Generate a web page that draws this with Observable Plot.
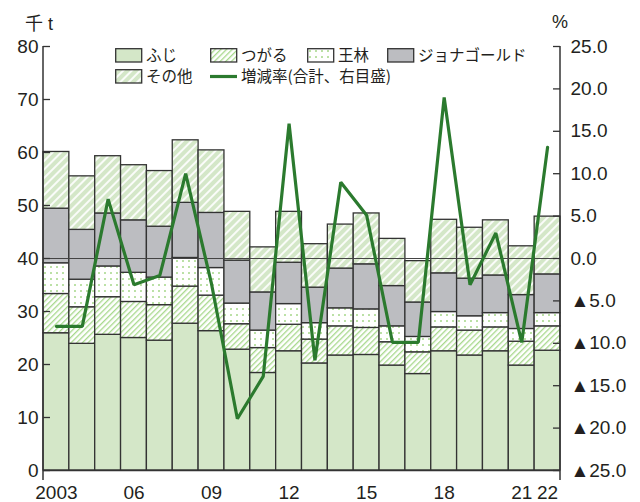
<!DOCTYPE html>
<html><head><meta charset="utf-8">
<script src="https://cdn.jsdelivr.net/npm/d3@7"></script>
<script src="https://cdn.jsdelivr.net/npm/@observablehq/plot@0.6"></script>
<style>
body{margin:0;background:#fff;}
#wrap{position:relative;width:640px;height:502px;font-family:"Liberation Sans",Arial,sans-serif;color:#231f20;}
.lg{position:absolute;font-family:"Noto Sans CJK JP",sans-serif;font-size:15.5px;color:#231f20;line-height:1;white-space:nowrap;}
.sw{position:absolute;}
.unit{position:absolute;font-size:18px;line-height:1;}
</style></head><body><div id="wrap"></div>
<script>
const years = [2003,2004,2005,2006,2007,2008,2009,2010,2011,2012,2013,2014,2015,2016,2017,2018,2019,2020,2021,2022];
const fuji     = [25.9,23.9,25.6,25.0,24.5,27.7,26.3,22.8,18.4,22.5,20.2,21.7,21.8,19.8,18.2,22.5,21.7,22.5,19.8,22.6];
const tsugaru  = [7.4,6.9,7.1,6.8,6.7,7.0,6.7,4.8,4.7,5.0,4.5,5.5,5.1,4.4,4.1,4.5,4.7,4.5,4.5,4.6];
const ourin    = [5.8,5.2,5.8,5.5,5.2,5.4,5.2,3.9,3.3,3.9,3.1,3.4,3.5,3.0,2.9,2.9,2.7,2.7,2.4,2.5];
const jonagold = [10.3,9.4,10.0,9.9,9.6,10.4,10.4,8.1,7.2,7.8,6.7,7.5,8.5,7.6,6.5,7.3,7.1,7.1,6.4,7.3];
const other    = [10.7,10.1,10.8,10.4,10.5,11.8,11.8,9.2,8.5,9.6,8.2,8.3,9.6,8.9,7.8,10.1,9.6,10.4,9.2,10.9];
const changePct = [-8.0,-8.0,7.0,-3.1,-2.0,10.0,-3.0,-18.9,-13.9,15.9,-12.0,9.0,5.1,-9.9,-9.9,19.0,-3.1,3.0,-9.9,13.1];
const seriesNames = ["ふじ","つがる","王林","ジョナゴールド","その他"];
const lineName = "増減率(合計、右目盛)";
const leftTicks = [0,10,20,30,40,50,60,70,80];
const pctTicks = [25,20,15,10,5,0,-5,-10,-15,-20,-25];
const xTickLabels = {2003:"2003",2006:"06",2009:"09",2012:"12",2015:"15",2018:"18",2021:"21",2022:"22"};

const fills = ["#d4e7c8","url(#p-tsugaru)","url(#p-ourin)","#bcbdc1","url(#p-other)"];
const lineColor = "#2b7a2e";

const rows = [];
const seriesArrays = [fuji,tsugaru,ourin,jonagold,other];
years.forEach((yr,i)=>seriesArrays.forEach((arr,k)=>rows.push({year:yr, series:seriesNames[k], value:arr[i]})));
// right axis: -25..25 % mapped onto 0..80 of left scale
const toY = p => 40 + p*1.6;
const fromY = y => Math.round((y-40)/1.6);
const lineRows = years.map((yr,i)=>({year:yr, y:toY(changePct[i])}));
const fmtPct = p => (p<0 ? "▲" + (-p).toFixed(1) : p.toFixed(1));

const W = 640, H = 502, mL = 43, mR = 80, mT = 46, mB = 32;
const plotW = W - mL - mR;

const defsMark = () => {
  const g = document.createElementNS("http://www.w3.org/2000/svg","g");
  g.innerHTML = `<defs>
    <pattern id="p-tsugaru" width="4" height="4" patternUnits="userSpaceOnUse" patternTransform="rotate(45)">
      <rect width="4" height="4" fill="#fff"/>
      <line x1="0.7" y1="0" x2="0.7" y2="4" stroke="#9fd581" stroke-width="1.2"/>
    </pattern>
    <pattern id="p-ourin" width="6" height="6" patternUnits="userSpaceOnUse">
      <rect width="6" height="6" fill="#fff"/>
      <circle cx="3" cy="3" r="0.95" fill="#9fd581"/>
    </pattern>
    <pattern id="p-other" width="6" height="6" patternUnits="userSpaceOnUse" patternTransform="rotate(45)">
      <rect width="6" height="6" fill="#d4e7c8"/>
      <line x1="1" y1="0" x2="1" y2="6" stroke="#fff" stroke-width="1.8"/>
    </pattern>
  </defs>`;
  return g;
};
const axisLines = (index, scales, values, dim) => {
  const g = document.createElementNS("http://www.w3.org/2000/svg","g");
  const x0 = dim.marginLeft, x1 = dim.width - dim.marginRight;
  const yt = dim.marginTop, yb = dim.height - dim.marginBottom + 10;
  g.innerHTML = `<line x1="${x0}" x2="${x0}" y1="${yt}" y2="${yb}" stroke="#333" stroke-width="1.5"/>
                 <line x1="${x1}" x2="${x1}" y1="${yt}" y2="${yb}" stroke="#333" stroke-width="1.5"/>`;
  return g;
};

const chart = Plot.plot({
  width: W, height: H,
  marginLeft: mL, marginRight: mR, marginTop: mT, marginBottom: mB,
  style: {fontFamily: '"Liberation Sans", Arial, sans-serif', fontSize: "19px", color: "#231f20", background: "transparent"},
  x: {type: "band", domain: years, padding: 0, round: false, label: null},
  y: {domain: [0, 80], label: null},
  color: {type: "ordinal", domain: seriesNames, range: fills},
  marks: [
    defsMark,
    Plot.barY(rows, {x: "year", y: "value", fill: "series", stroke: "#333", strokeWidth: 1.3}),
    Plot.ruleY([40], {stroke: "#444", strokeWidth: 1}),
    Plot.ruleY([0], {stroke: "#333", strokeWidth: 1.6}),
    Plot.line(lineRows, {x: "year", y: "y", stroke: lineColor, strokeWidth: 3.2, strokeLinejoin: "miter"}),
    axisLines,
    Plot.tickY(leftTicks, {y: d => d, stroke: "#333", strokeWidth: 1.3, insetRight: plotW - 7}),
    Plot.tickY(pctTicks.map(toY), {y: d => d, stroke: "#333", strokeWidth: 1.3, insetLeft: plotW - 7}),
    Plot.axisY({ticks: leftTicks, tickSize: 0, tickPadding: 5, label: null}),
    Plot.axisY({anchor: "right", ticks: pctTicks.map(toY), tickSize: 0, tickPadding: 10, label: null,
                tickFormat: y => fmtPct(fromY(y))}),
    Plot.axisX({tickSize: 0, tickPadding: 15, label: null, tickFormat: d => xTickLabels[d] ?? ""})
  ]
});
const wrap = document.getElementById("wrap");
wrap.appendChild(chart);

// units
const u1 = document.createElement("div"); u1.className = "unit";
u1.style.left = "25px"; u1.style.top = "13px";
u1.innerHTML = '<span style="font-family:\'Noto Sans CJK JP\'">千</span> t';
wrap.appendChild(u1);
const u2 = document.createElement("div"); u2.className = "unit";
u2.style.left = "552px"; u2.style.top = "13px"; u2.textContent = "%";
wrap.appendChild(u2);

// legend overlay
const legendItems = [
  {name: seriesNames[0], fill: fills[0], x: 115, y: 48},
  {name: seriesNames[1], fill: fills[1], x: 210, y: 48},
  {name: seriesNames[2], fill: fills[2], x: 307, y: 48},
  {name: seriesNames[3], fill: fills[3], x: 387, y: 48},
  {name: seriesNames[4], fill: fills[4], x: 115, y: 69},
  {name: lineName, line: true, x: 210, y: 69}
];
for (const it of legendItems) {
  const sw = document.createElementNS("http://www.w3.org/2000/svg","svg");
  sw.setAttribute("width", 28); sw.setAttribute("height", 15);
  sw.setAttribute("class", "sw");
  sw.style.left = it.x + "px"; sw.style.top = it.y + "px";
  sw.innerHTML = it.line
    ? `<line x1="0" x2="27" y1="7.5" y2="7.5" stroke="${lineColor}" stroke-width="3.2"/>`
    : `<rect x="0.7" y="0.7" width="26" height="13.3" fill="${it.fill}" stroke="#333" stroke-width="1.3"/>`;
  wrap.appendChild(sw);
  const t = document.createElement("div"); t.className = "lg";
  t.style.left = (it.x + 31) + "px"; t.style.top = (it.y - 1) + "px";
  t.textContent = it.name;
  wrap.appendChild(t);
}
</script></body></html>
